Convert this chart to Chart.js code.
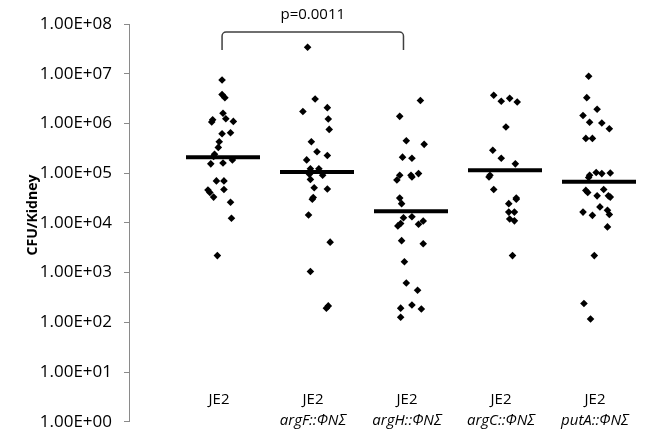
<!DOCTYPE html>
<html>
<head>
<meta charset="utf-8">
<script src="https://cdn.jsdelivr.net/npm/chart.js@4.4.0/dist/chart.umd.min.js"></script>
<style>
  html, body { margin: 0; padding: 0; background: #fff; }
  #wrap { width: 648px; height: 444px; }
</style>
</head>
<body>
<div id="wrap"><canvas id="cfuChart"></canvas></div>
<script>
// Strain groups (second line is italic)
const groupNames = ['JE2', 'JE2', 'JE2', 'JE2', 'JE2'];
const groupMutants = ['', 'argF::ΦNΣ', 'argH::ΦNΣ', 'argC::ΦNΣ', 'putA::ΦNΣ'];

// CFU per kidney, with horizontal jitter (category units)
const je2Values = [7.5e6, 3.8e6, 3.3e6, 1.6e6, 1.24e6, 1.1e6, 1.19e6, 1.07e6, 6.2e5, 6.5e5, 4.3e5, 3.3e5, 2.4e5, 2.16e5, 1.54e5, 1.6e5, 1.85e5, 7.0e4, 7.0e4, 4.7e4, 4.6e4, 4.1e4, 3.3e4, 2.6e4, 1.24e4, 2.2e3];
const je2Jitter = [-0.01, -0.01, 0.02, 0.00, 0.03, 0.11, -0.11, -0.12, -0.01, 0.08, -0.04, -0.05, -0.09, -0.10, -0.13, 0.00, 0.10, -0.07, 0.01, 0.01, -0.16, -0.14, -0.10, 0.08, 0.09, -0.06];

const argFValues = [3.4e7, 3.1e6, 1.74e6, 2.08e6, 1.23e6, 7.6e5, 4.3e5, 2.7e5, 2.26e5, 1.85e5, 1.23e5, 1.23e5, 9.5e4, 7.5e4, 9.1e4, 5.1e4, 4.8e4, 3.25e4, 3.0e4, 1.44e4, 4.1e3, 1.05e3, 214, 193];
const argFJitter = [-0.10, -0.02, -0.15, 0.11, 0.12, 0.13, -0.06, 0.00, 0.11, -0.11, -0.07, 0.02, -0.08, -0.07, 0.06, -0.03, 0.11, -0.04, -0.05, -0.09, 0.14, -0.07, 0.12, 0.10];

const argHValues = [2.9e6, 1.39e6, 4.5e5, 3.8e5, 2.1e5, 2.0e5, 9.1e4, 7.3e4, 9.1e4, 9.8e4, 8.4e4, 3.15e4, 2.44e4, 1.27e4, 9.7e3, 8.7e3, 1.33e4, 9.4e3, 1.09e4, 4.4e3, 3.8e3, 1.65e3, 620, 443, 193, 127, 224, 185];
const argHJitter = [0.10, -0.12, -0.05, 0.14, -0.09, 0.01, -0.12, -0.15, 0.00, 0.08, 0.01, -0.12, -0.10, -0.08, -0.11, -0.14, 0.01, 0.08, 0.13, -0.10, 0.13, -0.07, -0.05, 0.07, -0.11, -0.11, 0.01, 0.11];

const argCValues = [3.7e6, 2.8e6, 3.2e6, 2.7e6, 8.5e5, 2.9e5, 2.0e5, 1.54e5, 9.1e4, 8.4e4, 4.7e4, 2.44e4, 3.15e4, 3.0e4, 1.65e4, 1.65e4, 1.2e4, 1.1e4, 2.2e3];
const argCJitter = [-0.12, -0.04, 0.05, 0.13, 0.01, -0.13, -0.04, 0.11, -0.16, -0.17, -0.12, 0.04, 0.12, 0.12, 0.10, 0.04, 0.05, 0.10, 0.08];

const putAValues = [8.9e6, 3.3e6, 1.93e6, 1.45e6, 1.06e6, 1.02e6, 7.8e5, 5.0e5, 5.0e5, 1.03e5, 9.8e4, 1.01e5, 9.1e4, 8.2e4, 4.5e4, 4.1e4, 3.5e4, 4.7e4, 3.5e4, 3.3e4, 2.1e4, 1.8e4, 1.48e4, 1.65e4, 1.42e4, 8.3e3, 2.2e3, 239, 117];
const putAJitter = [-0.11, -0.13, -0.02, -0.17, -0.10, 0.03, 0.11, -0.14, -0.07, -0.03, 0.03, 0.12, -0.10, -0.11, -0.14, -0.12, -0.02, 0.05, 0.10, 0.12, 0.01, 0.09, 0.11, -0.17, -0.07, 0.09, -0.05, -0.16, -0.09];

// Median bars
const medians = [2.1e5, 1.06e5, 1.72e4, 1.14e5, 6.7e4];

// Y axis ticks
const yTickValues = [1, 1e1, 1e2, 1e3, 1e4, 1e5, 1e6, 1e7, 1e8];
const yTickLabels = ['1.00E+00', '1.00E+01', '1.00E+02', '1.00E+03', '1.00E+04', '1.00E+05', '1.00E+06', '1.00E+07', '1.00E+08'];

const pValueText = 'p=0.0011';
const yTitle = 'CFU/Kidney';

const allValues = [je2Values, argFValues, argHValues, argCValues, putAValues];
const allJitter = [je2Jitter, argFJitter, argHJitter, argCJitter, putAJitter];

const FONT = "'Open Sans', sans-serif";
Chart.defaults.font.family = FONT;
Chart.defaults.color = '#000';

// Builds points for one group
function groupPoints(g) {
    return allValues[g].map((v, i) => ({ x: g + 1 + allJitter[g][i], y: v }));
}

const pointSets = allValues.map((vals, g) => ({
    label: groupMutants[g] || groupNames[g],
    data: groupPoints(g),
    pointStyle: 'rectRot',
    pointRadius: 3.8,
    pointBackgroundColor: '#000',
    pointBorderColor: '#000',
    pointBorderWidth: 0,
    showLine: false
}));

const medianSet = {
    label: 'median',
    data: medians.map((m, g) => ({ x: g + 1, y: m })),
    pointStyle: 'line',
    pointRadius: 37,
    pointBorderWidth: 4,
    pointBorderColor: '#000',
    showLine: false
};

// Text and bracket drawn on top
const annotations = {
    id: 'annotations',
    afterDraw(chart) {
        const { ctx, chartArea } = chart;
        const xs = chart.scales.x;
        ctx.save();

        // category labels
        ctx.fillStyle = '#000';
        ctx.textAlign = 'center';
        ctx.textBaseline = 'middle';
        groupNames.forEach((name, g) => {
            const px = xs.getPixelForValue(g + 1) - 4;
            ctx.font = '15px ' + FONT;
            ctx.fillText(name, px, chartArea.bottom - 22);
            if (groupMutants[g]) {
                ctx.font = 'italic 15px ' + FONT;
                ctx.fillText(groupMutants[g], px, chartArea.bottom - 1);
            }
        });

        // y title
        ctx.save();
        ctx.translate(33, 215);
        ctx.rotate(-Math.PI / 2);
        ctx.font = 'bold 14px ' + FONT;
        ctx.fillText(yTitle, 0, 0);
        ctx.restore();

        // significance bracket between JE2 and argH
        const x1 = xs.getPixelForValue(0.99);
        const x2 = xs.getPixelForValue(2.92);
        const top = chartArea.top + 8;
        const bot = chartArea.top + 26;
        const r = 4;
        ctx.strokeStyle = '#404040';
        ctx.lineWidth = 1.5;
        ctx.beginPath();
        ctx.moveTo(x1, bot);
        ctx.arcTo(x1, top, x1 + r, top, r);
        ctx.arcTo(x2, top, x2, top + r, r);
        ctx.lineTo(x2, bot);
        ctx.stroke();

        ctx.font = '15px ' + FONT;
        ctx.fillText(pValueText, (x1 + x2) / 2, chartArea.top - 9);
        ctx.restore();
    }
};

const ctx = document.getElementById('cfuChart').getContext('2d');
const cfuChart = new Chart(ctx, {
    type: 'scatter',
    data: {
        datasets: [...pointSets, medianSet]
    },
    options: {
        responsive: true,
        maintainAspectRatio: false,
        animation: false,
        layout: {
            autoPadding: false,
            padding: { top: 24, right: 2, bottom: 14, left: 0 }
        },
        scales: {
            x: {
                type: 'linear',
                min: 0,
                max: 5.5,
                display: false
            },
            y: {
                type: 'logarithmic',
                min: 1,
                max: 1e8,
                afterBuildTicks: (scale) => {
                    scale.ticks = yTickValues.map(v => ({ value: v }));
                },
                afterFit: (scale) => {
                    scale.width = 129;
                },
                grid: {
                    drawOnChartArea: false,
                    tickLength: 5,
                    color: '#8a8a8a'
                },
                border: {
                    display: true,
                    color: '#8a8a8a',
                    width: 1
                },
                ticks: {
                    padding: 12,
                    color: '#000',
                    font: { family: FONT, size: 17 },
                    callback: (value, index) => yTickLabels[index]
                }
            }
        },
        plugins: {
            legend: { display: false },
            tooltip: { enabled: false }
        }
    },
    plugins: [annotations]
});
</script>
</body>
</html>
